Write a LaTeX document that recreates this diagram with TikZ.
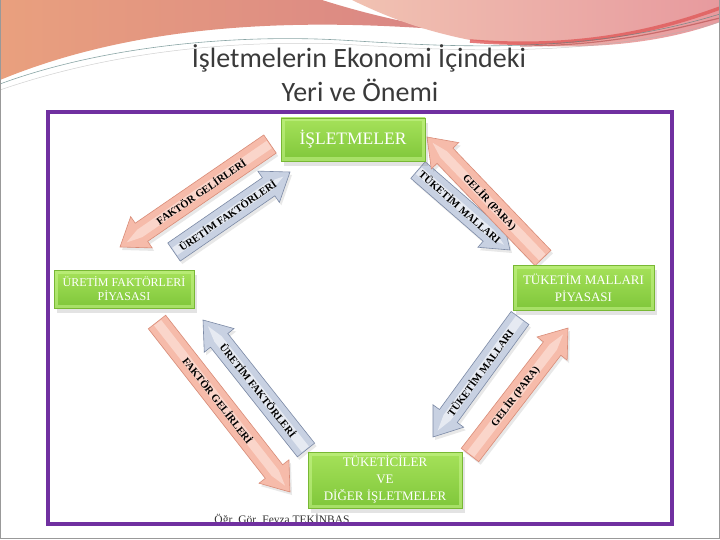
\documentclass[tikz,border=0pt]{standalone}
\usepackage{fontspec}
\setmainfont{Liberation Serif}
\newfontfamily\titlefont{Carlito}
\usetikzlibrary{shadows}
\definecolor{framepurple}{HTML}{7030A0}
\definecolor{titlegray}{HTML}{3A3A3A}
\definecolor{gtop}{HTML}{A6E25A}
\definecolor{gbot}{HTML}{7FC63A}
\definecolor{gedge}{HTML}{78B834}
\definecolor{gbevel}{HTML}{C8F58C}
\definecolor{pinkfill}{HTML}{F6BBAA}
\definecolor{pinklight}{HTML}{FCDCD2}
\definecolor{pinkedge}{HTML}{D98C78}
\definecolor{bluefill}{HTML}{C8D1E2}
\definecolor{bluelight}{HTML}{EEF1F7}
\definecolor{blueedge}{HTML}{7C8AA6}
\definecolor{decoA}{HTML}{E9A07E}
\definecolor{decoB}{HTML}{D98585}
\definecolor{decoC}{HTML}{F1C2B2}
\definecolor{decoD}{HTML}{E79A9E}
\definecolor{decoRed}{HTML}{E05A5A}
\tikzset{
  gbox/.style={rectangle, top color=gtop, bottom color=gbot, draw=gedge, line width=0.5pt,
    inner sep=0pt, align=center, text=white,
    drop shadow={opacity=0.22, shadow xshift=3pt, shadow yshift=-5pt},
    path picture={\draw[gbevel, line width=7pt, opacity=0.55]
      (path picture bounding box.south west) rectangle (path picture bounding box.north east);}},
  arrtext/.style={font=\bfseries\fontsize{10.5}{11}\selectfont, text=black, inner sep=0pt},
  pinkarr/.style={fill=pinkfill, draw=pinkedge, line width=0.6pt,
    drop shadow={opacity=0.18, shadow xshift=2pt, shadow yshift=-3pt}},
  bluearr/.style={fill=bluefill, draw=blueedge, line width=0.6pt,
    drop shadow={opacity=0.18, shadow xshift=2pt, shadow yshift=-3pt}},
}
% #1 name, #2 x1, #3 y1 (tail), #4 x2, #5 y2 (tip), #6 style, #7 light colour, #8 text, #9 text flip
\newcommand{\blockarr}[9]{%
  \pgfmathsetmacro\bAng{atan2(#3-#5,#4-#2)}%
  \pgfmathsetmacro\bLen{veclen(#4-#2,#5-#3)}%
  \pgfmathsetmacro\bHb{\bLen-26}%
  \pgfmathsetmacro\bTa{\bAng+#9}%
  \pgfmathsetmacro\bTx{0.46*\bLen}%
  \begin{scope}[shift={(#2,#3)},rotate=\bAng]
    \draw[#6] (0,-11) -- (\bHb,-11) -- (\bHb,-19) -- (\bLen,0) -- (\bHb,19) -- (\bHb,11) -- (0,11) -- cycle;
    \fill[#7, opacity=0.8] (1,-4.5) -- (\bHb+2,-4.5) -- (\bLen-8,0) -- (\bHb+2,4.5) -- (1,4.5) -- cycle;
    \node[arrtext, rotate=\bTa] (#1) at (\bTx,0) {#8};
  \end{scope}}
\begin{document}
\begin{tikzpicture}[x=1pt,y=-1pt]
\useasboundingbox (0,0) rectangle (720,540);
\fill[white] (0,0) rectangle (720,540);
% top decoration
\shade[left color=decoA, right color=decoB]
  (0,0) -- (322,0) .. controls (360,12) and (400,22) .. (450,30)
  .. controls (320,20) and (150,18) .. (0,80) -- cycle;
\shade[left color=decoC, right color=decoD]
  (352,0) -- (720,0) -- (720,22) .. controls (650,48) and (560,52) .. (470,40)
  .. controls (420,30) and (385,16) .. (352,0) -- cycle;
\draw[decoRed, line width=3.5pt, opacity=0.8] (470,41) .. controls (580,50) and (660,30) .. (720,8);
\draw[decoRed!80!black, line width=1.2pt, opacity=0.6] (520,46) .. controls (610,46) and (670,30) .. (720,18);
\draw[gray!70!teal, line width=0.6pt, opacity=0.7] (0,84) .. controls (100,47) and (230,34) .. (340,40)
  .. controls (440,46) and (580,57) .. (720,14);
\draw[gray!60, line width=0.5pt, opacity=0.6] (0,90) .. controls (110,52) and (230,40) .. (340,44)
  .. controls (440,50) and (590,60) .. (720,22);
% slide border
\draw[gray!80, line width=1pt] (0.5,0) -- (0.5,538) -- (719.5,538) -- (719.5,0);
% title
\node[font=\titlefont\fontsize{28}{32}\selectfont, text=titlegray] (t1) at (359,58) {İşletmelerin Ekonomi İçindeki};
\node[font=\titlefont\fontsize{28}{32}\selectfont, text=titlegray] (t2) at (360,90) {Yeri ve Önemi};
% footer text (partly hidden by frame)
\node[font=\fontsize{11.5}{13}\selectfont, text=black!80] (aut) at (282,520) {Öğr. Gör. Feyza TEKİNBAŞ};
% frame
\draw[framepurple, line width=4pt] (48,112) rectangle (672,524);
% arrows
\blockarr{a1}{270}{144}{120}{247}{pinkarr}{pinklight}{FAKTÖR GELİRLERİ}{180}
\blockarr{a2}{174}{252}{290}{172}{bluearr}{bluelight}{ÜRETİM FAKTÖRLERİ}{0}
\blockarr{a3}{418}{170}{510}{250}{bluearr}{bluelight}{TÜKETİM MALLARI}{0}
\blockarr{a4}{543}{258}{427}{137}{pinkarr}{pinklight}{GELİR (PARA)}{180}
\blockarr{a5}{306}{450}{203}{320}{bluearr}{bluelight}{ÜRETİM FAKTÖRLERİ}{180}
\blockarr{a6}{157}{322}{290}{492}{pinkarr}{pinklight}{FAKTÖR GELİRLERİ}{0}
\blockarr{a7}{520}{318}{433}{437}{bluearr}{bluelight}{TÜKETİM MALLARI}{180}
\blockarr{a8}{470}{455}{568}{328}{pinkarr}{pinklight}{GELİR (PARA)}{0}
% boxes
\node[gbox, minimum width=144pt, minimum height=43pt, font=\fontsize{17.5}{20}\selectfont] (isl) at (353,139.5) {İŞLETMELER};
\node[gbox, minimum width=140pt, minimum height=38pt, font=\fontsize{12}{14}\selectfont] (ufp) at (124,289) {ÜRETİM FAKTÖRLERİ\\PİYASASI};
\node[gbox, minimum width=141pt, minimum height=45pt, font=\fontsize{13}{16.5}\selectfont] (tmp) at (583.5,287.5) {TÜKETİM MALLARI\\PİYASASI};
\node[gbox, minimum width=154pt, minimum height=56pt, font=\fontsize{13}{17}\selectfont] (tdi) at (385,480) {TÜKETİCİLER\\VE\\DİĞER İŞLETMELER};
\end{tikzpicture}
\end{document}
